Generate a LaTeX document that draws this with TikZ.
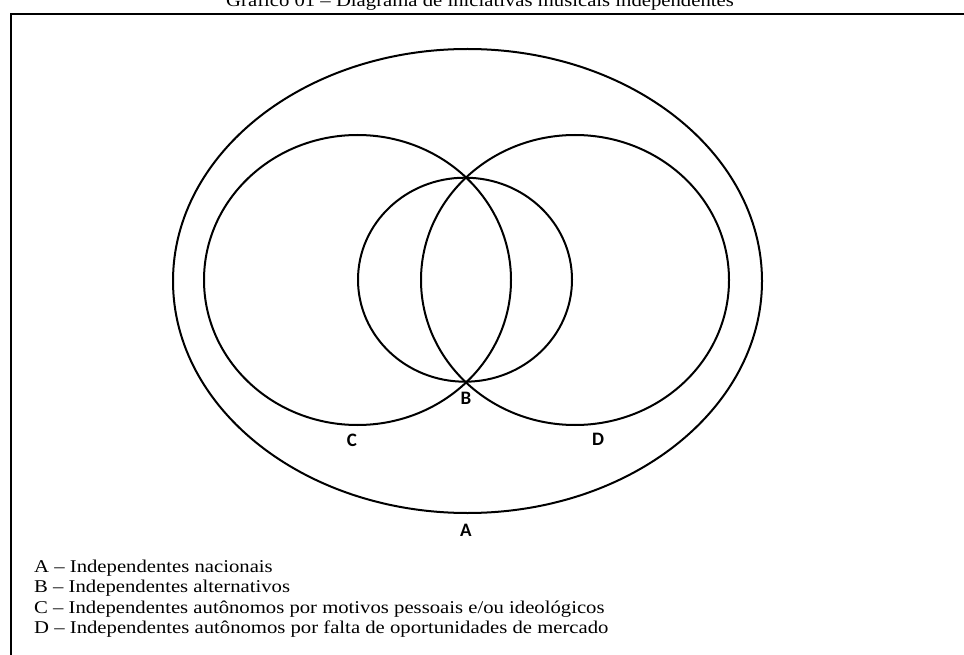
\documentclass[tikz,border=0pt]{standalone}
\usepackage{fontspec}
\setmainfont{Liberation Serif}
\newfontfamily\lblfont{Carlito}
\usetikzlibrary{positioning}

\tikzset{
  setline/.style={line width=2pt},
  setlbl/.style={font=\lblfont\bfseries\fontsize{19}{19}\selectfont,inner sep=0pt},
  legtxt/.style={font=\fontsize{18}{18}\selectfont,inner sep=0pt,anchor=base west,xscale=1.15}
}

\begin{document}
\begin{tikzpicture}[x=1pt,y=-1pt]
  \useasboundingbox (0,0) rectangle (964,655);
  \clip (0,0) rectangle (964,655);
  \fill[white] (0,0) rectangle (964,655);
  % title, cut at the top edge
  \node[font=\fontsize{18}{18}\selectfont,inner sep=0pt,anchor=base,xscale=1.15] (title) at (480,6.5)
    {Gráfico 01 – Diagrama de iniciativas musicais independentes};
  % frame
  \draw[line width=2pt] (10.5,14) rectangle (1000,700);
  % sets
  \draw[setline] (467.5,281) ellipse [x radius=294.5, y radius=232];
  \draw[setline] (357.5,280) ellipse [x radius=153.5, y radius=145];
  \draw[setline] (575,280) ellipse [x radius=154, y radius=145];
  \draw[setline] (465,279.7) ellipse [x radius=107, y radius=102];
  % set labels
  \node[setlbl] (labA) at (466,530) {A};
  \node[setlbl] (labB) at (466,398) {B};
  \node[setlbl] (labC) at (352,440) {C};
  \node[setlbl] (labD) at (598,439) {D};
  % legend
  \node[legtxt] (legA) at (34,572) {A – Independentes nacionais};
  \node[legtxt] (legB) at (34,592.5) {B – Independentes alternativos};
  \node[legtxt] (legC) at (34,613) {C – Independentes autônomos por motivos pessoais e/ou ideológicos};
  \node[legtxt] (legD) at (34,633.5) {D – Independentes autônomos por falta de oportunidades de mercado};
\end{tikzpicture}
\end{document}
